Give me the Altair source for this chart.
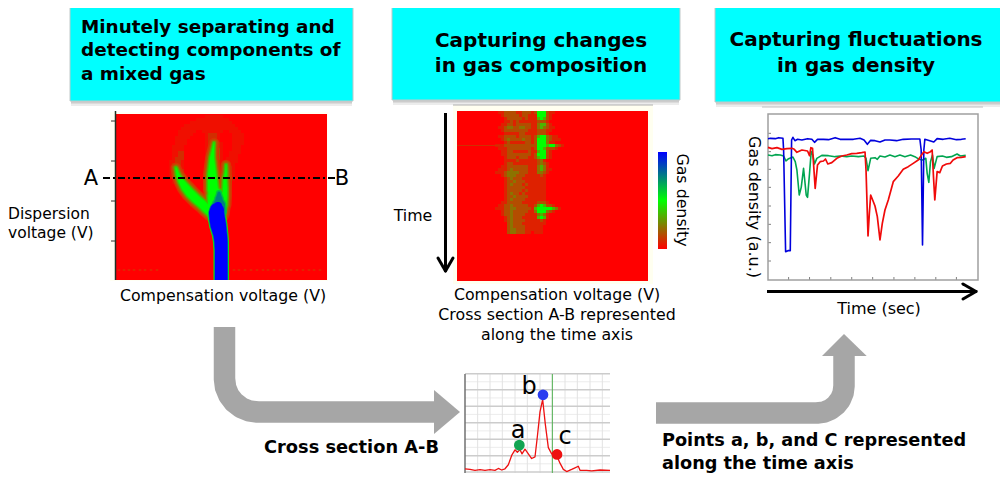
import altair as alt
import pandas as pd

OX, OY = 8, 8
FONT = "DejaVu Sans"

# ---------- values ----------
DISP_LEVEL = {"0": 0, "1": .06, "2": .18, "3": .34}
TIME_LEVEL = {"0": 0, "1": .13, "2": .3, "3": .45, "4": .7, "5": 1}

# Faint part of the dispersion / compensation map: one string per dispersion step
DISPERSION_MAP = [
 "00000000000" "00001111110" "00000000000",
 "00000000000" "01111111111" "10000000000",
 "00000000001" "11111111111" "11000000000",
 "00000000111" "11111111111" "11100000000",
 "00000001111" "11111111111" "11110000000",
 "00000011111" "10011111110" "01111000000",
 "00000011111" "00001222100" "00111100000",
 "00000111110" "00001222100" "00111100000",
 "00000111100" "00001233100" "00111100000",
 "00000111100" "00001233210" "00111100000",
 "00001111000" "00001233210" "00111000000",
 "00001111000" "00001233310" "00111000000",
 "00001122000" "00001233310" "01111000000",
 "00001122000" "00001233310" "01110000000",
 "00001222000" "00002333310" "11110000000",
 "00011221000" "00002333210" "11110000000",
 "00012221000" "00002333210" "11100000000",
 "00012321000" "00002333210" "12100000000",
 "00012332000" "00002333211" "22100000000",
 "00012332000" "00002333211" "32100000000",
 "00012332000" "00002333212" "33100000000",
 "00001332100" "00002333212" "33100000000",
 "00001233210" "00002333212" "33000000000",
 "00000123321" "00002333212" "33000000000",
 "00000012332" "10002333212" "32000000000",
 "00000001233" "21002333223" "32000000000",
 "00000000123" "32101233333" "21000000000",
]

# Bright ridges of the same map: compensation position, dispersion position, ridge width
LEFT_C = [176,178,181,185,190,196,202,207,210]
LEFT_D = [168,175,181,187,193,199,204,209,213]
LEFT_W = [1,3,5,7,8,8,8,8,6]
MID_C = [214,213,212,212,212,213,216,217,217]
MID_D = [143,150,158,166,174,190,197,204,212]
MID_W = [.5,2,4,6,8,10,16,18,16]
RIGHT_C = [226,226,225,225,225,225]
RIGHT_D = [165,172,180,188,196,205]
RIGHT_W = [.5,1.5,3,4,4,3]
TEAL_C = [219,219,219,218]
TEAL_D = [193,199,205,211]
TEAL_W = [3,7,12,15]
TRUNK_D = [206,210,213,219,225,230,235,242,250,290]
TRUNK_L = [214,210,209,209.5,210.5,212,213.5,214.5,215,215]
TRUNK_R = [222,224,224,225,226,226.5,227,227.5,227.5,227.5]
SPECKLE_C = [119,124,129,134,140,145,151,157,234,239,245,251,257,263,268,274,280,286,291,297,303,309,314,320]

# Time / compensation map: one string per time step
TIME_MAP = [
 "011" "2222112221" "2555" "2110000",
 "001" "2222212211" "1555" "2100000",
 "000" "1222221211" "1454" "2100000",
 "000" "1121211111" "1222" "1000000",
 "001" "1221222221" "1344" "2100000",
 "011" "2332233221" "1343" "2110000",
 "001" "2222222211" "1222" "1100000",
 "000" "1111122111" "1222" "1000000",
 "011" "2222122221" "2455" "3211000",
 "001" "2322223221" "2555" "3211100",
 "000" "1211111221" "2555" "3110000",
 "111" "2222222222" "2555" "4553210",
 "011" "1222222221" "2554" "2221000",
 "001" "1221111121" "1455" "2100000",
 "001" "1222222221" "2555" "2100000",
 "000" "1222122211" "2455" "2100000",
 "000" "1111211111" "1231" "0000000",
 "000" "1221111111" "1232" "1000000",
 "001" "1222222211" "1343" "1000000",
 "011" "1232222211" "1343" "1100000",
 "111" "2333322211" "1332" "1000000",
 "001" "2333222111" "1121" "0000000",
 "000" "1232221111" "1111" "0000000",
 "000" "1223222111" "1111" "0000000",
 "000" "1232221211" "1111" "0000000",
 "000" "1222222111" "1111" "0000000",
 "000" "1222221211" "1111" "0000000",
 "000" "1232212111" "1111" "0000000",
 "000" "1223222211" "1111" "0000000",
 "000" "1232222111" "1111" "0000000",
 "001" "1222221111" "1222" "1000000",
 "011" "2232222211" "2454" "2210000",
 "111" "2233222221" "4555" "5543100",
 "001" "2232222211" "3555" "3210000",
 "001" "2232222111" "1343" "1000000",
 "000" "1232221111" "1454" "1000000",
 "000" "1232222111" "1121" "0000000",
 "000" "0232221111" "1111" "0000000",
 "000" "0232222111" "1110" "0000000",
 "000" "0233222111" "1110" "0000000",
 "000" "0233222110" "1110" "0000000",
]

BLUE_T = [143,150,165,175,188,190,196,203,210,214,218,224,232,245,262,275,283,292,310,325,345,360,380,400,420,432,442,452,465,480,495,510,530,550,575,600,604,608,612,615,630,642,652,670,690,710,725,738]
BLUE_D = [116,115,116,113,115,150,455,452,452,120,112,122,118,120,116,118,127,118,118,119,113,118,118,118,115,120,133,121,122,126,120,120,122,118,117,117,150,435,150,118,122,126,116,118,115,119,118,116]
RED_T = [143,155,170,185,200,215,222,230,245,262,268,272,277,280,285,292,300,310,316,323,335,350,365,380,395,410,425,435,438,444,448,452,458,465,472,480,487,495,505,520,535,550,565,580,595,605,612,622,632,637,641,645,652,660,668,680,692,700,712,725,738]
RED_D = [142,146,143,148,146,145,148,157,150,153,167,143,145,190,265,195,185,183,177,192,188,175,168,165,161,160,158,156,210,408,340,285,300,318,350,420,370,330,300,245,228,208,200,190,180,165,155,160,155,150,230,300,215,218,198,192,190,180,173,172,170]
GREEN_T = [143,155,165,180,190,197,205,218,225,230,237,243,250,258,262,268,273,278,283,290,305,325,345,360,380,395,415,432,438,444,452,465,472,480,495,510,525,540,555,572,585,598,608,618,622,627,632,638,643,652,668,680,695,712,722,738]
GREEN_D = [165,167,164,165,168,183,176,171,185,210,285,262,205,285,292,220,155,165,192,175,166,167,170,168,170,168,170,168,175,212,175,173,178,168,171,165,170,165,170,165,170,178,180,175,220,247,185,165,205,170,168,172,170,162,168,166]

SECTION_V = [75,90,105,120,135,150,165,175,185,195,205,215,225,232,240,246,255,265,275,285,292,300,308,316,325,335,350,360,370,380,395,405,415,420,440,455,480,510]
SECTION_I = [333,335,338,336,338,336,338,332,337,333,320,290,272,280,272,285,270,285,300,295,230,150,110,190,265,285,290,315,335,342,335,330,325,338,338,340,337,338]
POINT_V = [238, 309, 351]
POINT_I = [257, 95, 287]
POINT_NAME = ["a", "b", "c"]
POINT_COLOR = ["#12a452", "#2a3cf0", "#ee1010"]

GRID_V = [113,150,187,225,262,300,337,375,412,450,487]
GRID_MAJOR = [27,79,132,185,238,291,343]
GRID_MINOR = [53,105,158,211,264,317]
CURSOR_V = [337]
DENSITY_TICKS = [100,155,208,262,318,373,428,483]
TIME_TICKS = [205,268,332,395,458,522,585,648,710]
DISP_TICKS = [121,161,201,241]

ELBOW1_X = [224.5,224.5,225.6,228.9,234.2,241,249,257.5,434]
ELBOW1_Y = [327,379,387.5,395.5,402.3,407.6,410.9,412,412]
ELBOW2_X = [656,817,824,830.5,836,840.4,843.1,844,844]
ELBOW2_Y = [413,413,412.1,409.4,405.1,399.5,393,386,356]

# ---------- helpers ----------
ONE = alt.Data(values=[{"k": 0}])
COLOR = alt.Scale(domain=[0, 1, 2], range=["#ff0000", "#00ff00", "#0000ff"], interpolate="rgb")
LEG = alt.Legend(orient="none", legendX=658 - OX, legendY=152 - OY, gradientLength=97, gradientThickness=9,
                 labelOpacity=0, labelFontSize=1, title=None, gradientStrokeWidth=0)

def sx(lo, hi, a, b):
    return alt.Scale(domain=[lo, hi], range=[a - OX, b - OX])

def sy(lo, hi, a, b):
    return alt.Scale(domain=[lo, hi], range=[a - OY, b - OY])

CX = sx(8, 1000, 8, 1000)
CY = sy(8, 473, 8, 473)

def box(x0, y0, x1, y1, fill, stroke=None, sw=0, op=1):
    kw = dict(fill=fill, opacity=op)
    if stroke:
        kw.update(stroke=stroke, strokeWidth=sw)
    return alt.Chart(ONE).mark_rect(**kw).encode(
        x=alt.value(x0 - OX), x2=alt.value(x1 - OX), y=alt.value(y0 - OY), y2=alt.value(y1 - OY))

def seg(x0, y0, x1, y1, color="#000000", w=1, dash=None, cap="butt"):
    kw = dict(color=color, strokeWidth=w, strokeCap=cap)
    if dash:
        kw["strokeDash"] = dash
    return alt.Chart(ONE).mark_rule(**kw).encode(
        x=alt.value(x0 - OX), x2=alt.value(x1 - OX), y=alt.value(y0 - OY), y2=alt.value(y1 - OY))

def label(x, y, text, size=15.8, bold=False, align="center", angle=0):
    return alt.Chart(ONE).mark_text(text=text, font=FONT, fontSize=size, fontWeight="bold" if bold else "normal",
                                    align=align, baseline="middle", angle=angle, color="#000000").encode(
        x=alt.value(x - OX), y=alt.value(y - OY))

def heat(rows, levels, x0, y0, cell):
    recs = [{"c": c, "c2": c + 1, "r": r, "r2": r + 1, "level": levels[ch]}
            for r, row in enumerate(rows) for c, ch in enumerate(row) if ch != "0"]
    nc, nr = max(len(r) for r in rows), len(rows)
    return alt.Chart(pd.DataFrame(recs)).mark_rect(strokeWidth=0).encode(
        x=alt.X("c:Q", axis=None, scale=sx(0, nc, x0, x0 + cell * nc)), x2="c2:Q",
        y=alt.Y("r:Q", axis=None, scale=sy(0, nr, y0, y0 + cell * nr)), y2="r2:Q",
        color=alt.Color("level:Q", scale=COLOR, legend=LEG))

def ridge(cs, ds, ws, extra, color):
    df = pd.DataFrame({"c": cs, "d": ds, "w": [w + extra for w in ws], "i": range(len(cs))})
    return alt.Chart(df).mark_trail(color=color).encode(
        x=alt.X("c:Q", axis=None, scale=CX), y=alt.Y("d:Q", axis=None, scale=CY),
        size=alt.Size("w:Q", scale=None, legend=None), order="i:Q")

def series(ts, ds, color, w, sxx, syy):
    df = pd.DataFrame({"t": ts, "d": ds, "i": range(len(ts))})
    return alt.Chart(df).mark_line(color=color, strokeWidth=w, strokeJoin="round").encode(
        x=alt.X("t:Q", axis=None, scale=sxx), y=alt.Y("d:Q", axis=None, scale=syy), order="i:Q")

L = []

# ---------- header boxes ----------
for (a, b, c, d) in [(70, 3, 353, 101), (392, 3, 680, 100), (715, 3, 1003, 102)]:
    L.append(box(a + 1, d, c - 1, d + 5, "#808080", op=.15))
    L.append(box(a + 1, d, c - 1, d + 2.5, "#808080", op=.3))
    L.append(box(a, b, c, d, "#00ffff", "#c0c8c8", 1))
for y, t in [(27, "Minutely separating and"), (50, "detecting components of"), (74, "a mixed gas")]:
    L.append(label(81, y, t, 18.4, True, "left"))
for x, y, t in [(541, 41, "Capturing changes"), (541, 66, "in gas composition"),
                (856, 40, "Capturing fluctuations"), (856, 66, "in gas density")]:
    L.append(label(x, y, t, 20, True))

# ---------- panel 1 ----------
L.append(box(110, 112, 328, 281, "#fffff4"))
L.append(box(115, 114, 327, 280, "#ff0000"))
L.append(alt.Chart(pd.DataFrame({"v": SPECKLE_C})).mark_rule(color="#d83000", strokeWidth=2.5, opacity=.7).encode(
    x=alt.X("v:Q", axis=None, scale=CX), y=alt.value(269 - OY), y2=alt.value(271 - OY)))
L.append(heat(DISPERSION_MAP, DISP_LEVEL, 160, 115, 3))
for extra, col in [(10, "#d93300"), (7, "#b35900"), (4, "#66a000"), (2, "#33cc00"), (0, "#00ff00")]:
    L.append(ridge(LEFT_C, LEFT_D, LEFT_W, extra, col))
    L.append(ridge(MID_C, MID_D, MID_W, extra, col))
    L.append(ridge(RIGHT_C, RIGHT_D, RIGHT_W, extra, col))
TRUNK_C = [(a + b) / 2 for a, b in zip(TRUNK_L, TRUNK_R)]
TRUNK_W = [b - a for a, b in zip(TRUNK_L, TRUNK_R)]
L.append(ridge(TRUNK_C, TRUNK_D, TRUNK_W, 3, "#00ff00"))
L.append(ridge(TEAL_C, TEAL_D, TEAL_W, 3, "#00c040"))
L.append(ridge(TEAL_C, TEAL_D, TEAL_W, 0, "#007f80"))
L.append(ridge(TRUNK_C, TRUNK_D, TRUNK_W, 1.5, "#008080"))
L.append(ridge(TRUNK_C, TRUNK_D, TRUNK_W, 0, "#0000ff"))
L.append(box(200, 280, 245, 300, "#ffffff"))
L.append(seg(115.5, 111, 115.5, 280, "#203020", 1.5))
L.append(alt.Chart(pd.DataFrame({"v": DISP_TICKS})).mark_rule(color="#303030", strokeWidth=1).encode(
    y=alt.Y("v:Q", axis=None, scale=CY), x=alt.value(111 - OX), x2=alt.value(115 - OX)))
L.append(seg(103, 178, 337, 178, "#000000", 2, [7, 3, 2, 3]))
L.append(label(91, 179, "A", 21))
L.append(label(342, 179, "B", 21))
L.append(label(8, 214, "Dispersion", 15.5, False, "left"))
L.append(label(8, 233, "voltage (V)", 15.5, False, "left"))
L.append(label(223, 296, "Compensation voltage (V)"))

# ---------- panel 2 ----------
L.append(box(453, 105, 653, 284, "#fffff0"))
L.append(seg(453, 105, 653, 105, "#b0b0b0", 1))
L.append(box(457, 111, 648, 281, "#ff0000"))
L.append(heat(TIME_MAP, TIME_LEVEL, 495, 111, 3))
L.append(seg(457, 145.5, 500, 145.5, "#d03000", 1))
L.append(seg(445.5, 113, 445.5, 271, "#000000", 3))
L.append(seg(438, 258, 445.5, 271, "#000000", 3, cap="round"))
L.append(seg(453, 258, 445.5, 271, "#000000", 3, cap="round"))
L.append(label(413, 216, "Time"))
L.append(label(682, 200, "Gas density", angle=90))
L.append(label(557, 295, "Compensation voltage (V)"))
L.append(label(557, 315, "Cross section A-B represented"))
L.append(label(557, 335, "along the time axis"))

# ---------- panel 3 ----------
XT = sx(143, 775, 768, 978)
YD = sy(540, 42, 280, 114)
L.append(seg(762, 107, 983, 107, "#c0c0c0", 1))
L.append(alt.Chart(pd.DataFrame({"v": DENSITY_TICKS})).mark_rule(color="#808080", strokeWidth=1).encode(
    y=alt.Y("v:Q", axis=None, scale=YD), x=alt.value(768 - OX), x2=alt.value(771 - OX)))
L.append(alt.Chart(pd.DataFrame({"v": TIME_TICKS})).mark_rule(color="#808080", strokeWidth=1).encode(
    x=alt.X("v:Q", axis=None, scale=XT), y=alt.value(277 - OY), y2=alt.value(280 - OY)))
L.append(box(768, 114, 978, 280, "transparent", "#a0a0a0", 1.5))
L.append(series(GREEN_T, GREEN_D, "#00a550", 1.6, XT, YD))
L.append(series(BLUE_T, BLUE_D, "#0000dd", 1.6, XT, YD))
L.append(series(RED_T, RED_D, "#f00a0a", 1.7, XT, YD))
L.append(seg(767, 291.5, 976, 291.5, "#000000", 3))
L.append(seg(963, 284, 976, 291.5, "#000000", 3, cap="round"))
L.append(seg(963, 299, 976, 291.5, "#000000", 3, cap="round"))
L.append(label(879, 309, "Time (sec)", 16))
L.append(label(754, 207, "Gas density (a.u.)", 16, angle=90))

# ---------- elbow arrows ----------
for xs, ys in [(ELBOW1_X, ELBOW1_Y), (ELBOW2_X, ELBOW2_Y)]:
    df = pd.DataFrame({"x": xs, "y": ys, "i": range(len(xs))})
    L.append(alt.Chart(df).mark_line(color="#a6a6a6", strokeWidth=21.5, strokeCap="butt", strokeJoin="round").encode(
        x=alt.X("x:Q", axis=None, scale=CX), y=alt.Y("y:Q", axis=None, scale=CY), order="i:Q"))
L.append(alt.Chart(pd.DataFrame({"x": [434, 460], "y": [390, 412], "y2": [434, 412]})).mark_area(color="#a6a6a6").encode(
    x=alt.X("x:Q", axis=None, scale=CX), y=alt.Y("y:Q", axis=None, scale=CY), y2="y2:Q"))
L.append(alt.Chart(pd.DataFrame({"y": [356, 334], "x": [822, 844], "x2": [866.7, 844]})).mark_area(color="#a6a6a6", orient="horizontal").encode(
    y=alt.Y("y:Q", axis=None, scale=CY), x=alt.X("x:Q", axis=None, scale=CX), x2="x2:Q"))
L.append(label(351.5, 448, "Cross section A-B", 17.8, True))
L.append(label(662, 441, "Points a, b, and C represented", 17.7, True, "left"))
L.append(label(662, 464, "along the time axis", 17.7, True, "left"))

# ---------- panel 4 ----------
XV = sx(75, 510, 465, 610)
YI = sy(345, 28, 472.5, 374)
L.append(alt.Chart(pd.DataFrame({"v": GRID_MINOR})).mark_rule(color="#ececec", strokeWidth=1).encode(
    y=alt.Y("v:Q", axis=None, scale=YI), x=alt.value(465 - OX), x2=alt.value(610 - OX)))
L.append(alt.Chart(pd.DataFrame({"v": GRID_V})).mark_rule(color="#e2e2e2", strokeWidth=1).encode(
    x=alt.X("v:Q", axis=None, scale=XV), y=alt.value(374 - OY), y2=alt.value(473 - OY)))
L.append(alt.Chart(pd.DataFrame({"v": GRID_MAJOR})).mark_rule(color="#cccccc", strokeWidth=1.5).encode(
    y=alt.Y("v:Q", axis=None, scale=YI), x=alt.value(465 - OX), x2=alt.value(610 - OX)))
L.append(alt.Chart(pd.DataFrame({"v": CURSOR_V})).mark_rule(color="#50b050", strokeWidth=1).encode(
    x=alt.X("v:Q", axis=None, scale=XV), y=alt.value(374 - OY), y2=alt.value(473 - OY)))
L.append(seg(465, 374, 465, 473, "#707070", 1.5))
L.append(series(SECTION_V, SECTION_I, "#ee1111", 1.3, XV, YI))
L.append(alt.Chart(pd.DataFrame({"v": POINT_V, "i": POINT_I, "n": POINT_NAME, "c": POINT_COLOR})).mark_circle(size=115, opacity=1).encode(
    x=alt.X("v:Q", axis=None, scale=XV), y=alt.Y("i:Q", axis=None, scale=YI),
    fill=alt.Color("c:N", scale=None, legend=None)))
L.append(label(518, 431, "a", 24))
L.append(label(529, 387, "b", 24))
L.append(label(565, 437, "c", 24))

chart = alt.layer(*L).resolve_scale(x="independent", y="independent").properties(
    width=992, height=465, padding=0, background="white",
    autosize=alt.AutoSizeParams(type="none")).configure_view(stroke=None)

chart.save("out.html", embed_options={"renderer": "svg", "actions": False})
